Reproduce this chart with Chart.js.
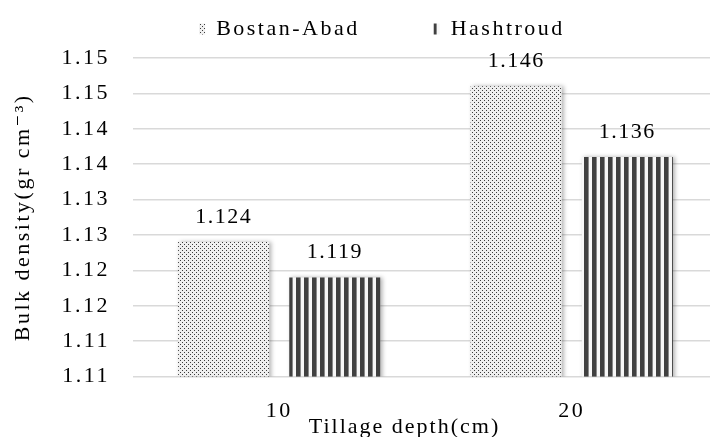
<!DOCTYPE html>
<html lang="en">
<head>
<meta charset="UTF-8">
<title>Bulk density by tillage depth</title>
<script src="https://cdn.jsdelivr.net/npm/chart.js@4.4.1/dist/chart.umd.min.js"></script>
<style>
    body {
        margin: 0;
        padding: 0;
        background: #ffffff;
        overflow: hidden;
    }
    .wrap {
        position: relative;
        width: 764px;
        height: 437px;
    }
</style>
</head>
<body>
<div class="wrap"><canvas id="myChart"></canvas></div>
<script>
    var depths = ['10', '20'];
    var bostanAbad = [1.124, 1.146];
    var hashtroud = [1.119, 1.136];
    var yTickLabels = ['1.11', '1.11', '1.12', '1.12', '1.13', '1.13', '1.14', '1.14', '1.15', '1.15'];

    var serif = "'Liberation Serif', 'DejaVu Serif', serif";
    Chart.defaults.font.family = serif;
    Chart.defaults.font.size = 22;
    Chart.defaults.color = '#000000';

    var ctx = document.getElementById('myChart').getContext('2d');

    // fine stipple for Bostan-Abad
    function dotPattern() {
        var c = document.createElement('canvas');
        c.width = 4; c.height = 4;
        var g = c.getContext('2d');
        g.fillStyle = '#efefef';
        g.fillRect(0, 0, 4, 4);
        g.fillStyle = '#3c3c3c';
        g.fillRect(0, 0, 1, 1);
        g.fillRect(2, 2, 1, 1);
        return ctx.createPattern(c, 'repeat');
    }

    // vertical stripes for Hashtroud
    function stripePattern() {
        var c = document.createElement('canvas');
        c.width = 8; c.height = 1;
        var g = c.getContext('2d');
        g.fillStyle = '#f7f7f7';
        g.fillRect(0, 0, 8, 1);
        g.fillStyle = '#404040';
        g.fillRect(0, 0, 4, 1);
        g.fillStyle = '#8a8a8a';
        g.fillRect(4, 0, 1, 1);
        return ctx.createPattern(c, 'repeat');
    }

    // the reference text is set loosely
    var spacing = {
        id: 'spacing',
        beforeLayout: function (chart) { chart.ctx.letterSpacing = '2.5px'; },
        beforeDraw: function (chart) { chart.ctx.letterSpacing = '2.5px'; }
    };

    var barShadow = {
        id: 'barShadow',
        beforeDatasetsDraw: function (chart) {
            var c = chart.ctx;
            c.save();
            c.shadowColor = 'rgba(0, 0, 0, 0.3)';
            c.shadowBlur = 4;
            c.shadowOffsetX = 2;
        },
        afterDatasetsDraw: function (chart) {
            chart.ctx.restore();
        }
    };

    var barValues = {
        id: 'barValues',
        afterDatasetsDraw: function (chart) {
            var c = chart.ctx;
            c.save();
            c.font = '22px ' + serif;
            c.letterSpacing = '1.5px';
            c.fillStyle = '#000000';
            c.textAlign = 'center';
            c.textBaseline = 'middle';
            chart.data.datasets.forEach(function (ds, i) {
                chart.getDatasetMeta(i).data.forEach(function (bar, j) {
                    c.fillText(ds.data[j].toFixed(3), bar.x, bar.y - 25);
                });
            });
            c.restore();
        }
    };

    var xTitle = {
        id: 'xTitle',
        afterDraw: function (chart) {
            var c = chart.ctx;
            var xs = chart.scales.x;
            c.save();
            c.font = '22px ' + serif;
            c.letterSpacing = '2px';
            c.fillStyle = '#000000';
            c.textAlign = 'center';
            c.textBaseline = 'middle';
            c.fillText('Tillage depth(cm)', (xs.left + xs.right) / 2 - 21, chart.chartArea.bottom + 51);
            c.restore();
        }
    };

    var myChart = new Chart(ctx, {
        type: 'bar',
        data: {
            labels: depths,
            datasets: [
                {
                    label: 'Bostan-Abad',
                    data: bostanAbad,
                    backgroundColor: dotPattern(),
                    borderWidth: 0,
                    categoryPercentage: 0.76,
                    barPercentage: 0.82
                },
                {
                    label: 'Hashtroud',
                    data: hashtroud,
                    backgroundColor: stripePattern(),
                    borderWidth: 0,
                    categoryPercentage: 0.76,
                    barPercentage: 0.82
                }
            ]
        },
        options: {
            responsive: true,
            maintainAspectRatio: false,
            animation: false,
            layout: {
                padding: { top: 0, right: 0, bottom: -8, left: 0 }
            },
            plugins: {
                tooltip: { enabled: false },
                legend: {
                    position: 'top',
                    labels: {
                        boxWidth: 6,
                        boxHeight: 11,
                        padding: 18,
                        color: '#000000',
                        font: { size: 22 },
                        generateLabels: function (chart) {
                            var items = Chart.defaults.plugins.legend.labels.generateLabels(chart);
                            items.forEach(function (it) { it.lineWidth = 0; });
                            items[0].text += '       ';
                            return items;
                        }
                    }
                }
            },
            scales: {
                x: {
                    grid: { display: false, drawTicks: false },
                    border: { display: false },
                    ticks: { padding: 21, font: { size: 22 }, color: '#000000' }
                },
                y: {
                    min: 1.105,
                    max: 1.15,
                    afterFit: function (scale) { scale.width = 133; },
                    ticks: {
                        stepSize: 0.005,
                        padding: 23,
                        font: { size: 22 },
                        color: '#000000',
                        callback: function (v, i) { return yTickLabels[i]; }
                    },
                    grid: { color: '#d9d9d9', lineWidth: 1.5, drawTicks: false },
                    border: { display: false },
                    title: {
                        display: true,
                        text: 'Bulk density(gr cm\u207B\u00B3)',
                        font: { size: 22 },
                        color: '#000000',
                        padding: { top: 10, bottom: 0 }
                    }
                },
                // empty strip on the right, the plot runs past the picture edge
                pad: {
                    position: 'right',
                    afterFit: function (scale) { scale.width = 46; },
                    grid: { display: false, drawTicks: false },
                    border: { display: false },
                    ticks: { display: false }
                },
                // small gap between legend and plot
                padTop: {
                    type: 'category',
                    position: 'top',
                    axis: 'x',
                    afterFit: function (scale) { scale.height = 8; },
                    grid: { display: false, drawTicks: false },
                    border: { display: false },
                    ticks: { display: false }
                }
            }
        },
        plugins: [spacing, barShadow, barValues, xTitle]
    });
</script>
</body>
</html>
